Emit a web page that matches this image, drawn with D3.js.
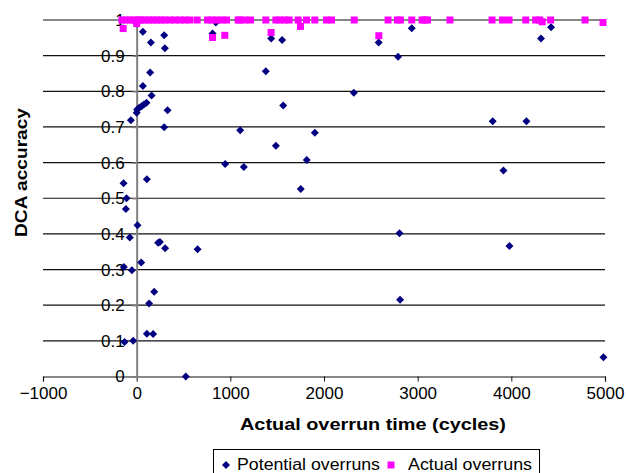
<!DOCTYPE html>
<html lang="en">
<head>
<meta charset="UTF-8">
<title>DCA accuracy</title>
<script src="https://cdn.jsdelivr.net/npm/d3@7"></script>
<style>
  body { margin: 0; background: #fff; }
  text { font-family: "Liberation Sans", Arial, sans-serif; fill: #000; }
</style>
</head>
<body>
<svg id="chart" width="626" height="473"></svg>
<script>
// potential overruns (blue diamonds)
const potentialX = [-62, 0, 5, 27, 52, 77, 105, 66, 159, 144, 152, 66, 0, 294, 301, 330, 294,
  845, 810, 1105, 1379, 1436, 1553, 1564, 1902, 2318, 2584, 2791, 2937, 3801, 4161, 4317, 4424,
  1486, 945, 1144, 109, -140, -108, -115, 9, -73, 229, 248, 304, 650, 48, -137, -51, 187, 133,
  109, 176, -129, -37, 525, 1816, 3916, 1752, 2806, 3980, 2812, 4983];
const potentialY = [0.719, 0.740, 0.749, 0.754, 0.758, 0.763, 0.768, 0.815, 0.788, 0.853, 0.937, 0.967, 0.99, 0.957, 0.921, 0.747, 0.699,
  0.993, 0.962, 0.691, 0.856, 0.948, 0.944, 0.760, 0.684, 0.796, 0.937, 0.897, 0.977, 0.716, 0.716, 0.948, 0.980,
  0.647, 0.596, 0.588, 0.553, 0.542, 0.500, 0.470, 0.424, 0.390, 0.375, 0.377, 0.360, 0.357, 0.320, 0.307, 0.298, 0.238, 0.205,
  0.120, 0.119, 0.097, 0.100, 0.000, 0.607, 0.578, 0.526, 0.402, 0.366, 0.215, 0.054];

// actual overruns (pink squares)
const actualX = [-158, -115, -73, -30, 13, 45, 88, 130, 173, 216, 258, 301, 355, 408, 461, 515, 568,
  646, 757, 803, 856, 909, 959, 1083, 1101, 1155, 1216, 1379, 1486, 1528, 1582, 1628, 1724, 1813,
  1902, 2027, 2080, 2323, 2684, 2784, 2816, 2937, 3047, 3076, 3105, 3345, 3794, 3905, 3975, 4154,
  4260, 4303, 4420, 4787,
  -144, 0, 810, 941, 1749, 1435, 2585, 4979, 4330];
const actualY = [1, 1, 1, 1, 1, 1, 1, 1, 1, 1, 1, 1, 1, 1, 1, 1, 1,
  1, 1, 1, 1, 1, 1, 1, 1, 1, 1, 1, 1, 1, 1, 1, 1, 1,
  1, 1, 1, 1, 1, 1, 1, 1, 1, 1, 1, 1, 1, 1, 1, 1,
  1, 1, 1, 1,
  0.976, 0.99, 0.951, 0.957, 0.982, 0.965, 0.956, 0.993, 0.995];

const xTicks = [-1000, 0, 1000, 2000, 3000, 4000, 5000];
const yTicks = [0, 0.1, 0.2, 0.3, 0.4, 0.5, 0.6, 0.7, 0.8, 0.9, 1];

const svg = d3.select('#chart');
const plot = { left: 43, right: 605, top: 20, bottom: 376.5 };

const x = d3.scaleLinear().domain([-1000, 5000]).range([plot.left, plot.right]);
const y = d3.scaleLinear().domain([0, 1]).range([plot.bottom, plot.top]);

// gridlines
svg.append('g').selectAll('line')
  .data(yTicks.filter(d => d > 0))
  .join('line')
  .attr('x1', plot.left).attr('x2', plot.right)
  .attr('y1', d => y(d)).attr('y2', d => y(d))
  .attr('stroke', '#111').attr('stroke-width', 1.2);

// x axis along y = 0
const xAxis = d3.axisBottom(x).tickValues(xTicks).tickSize(5).tickPadding(5).tickFormat(d3.format('d'));
const xg = svg.append('g').attr('transform', `translate(0,${y(0)})`).call(xAxis);
xg.select('.domain').attr('stroke', '#111').attr('stroke-width', 1.2);
xg.selectAll('.tick line').attr('stroke', '#111');
xg.selectAll('.tick text')
  .attr('font-size', 17)
  .attr('font-family', '"Liberation Sans", Arial, sans-serif')
  .attr('fill', '#000');

// y axis crossing at x = 0
const yAxis = d3.axisLeft(y).tickValues(yTicks).tickSize(4).tickPadding(8).tickFormat(d => d3.format('')(+d.toFixed(1)));
const yg = svg.append('g').attr('transform', `translate(${x(0)},0)`).call(yAxis);
yg.select('.domain').attr('stroke', '#808080').attr('stroke-width', 2);
yg.selectAll('.tick line').attr('stroke', '#808080').attr('stroke-width', 1.5);
yg.selectAll('.tick text')
  .attr('font-size', 17)
  .attr('font-family', '"Liberation Sans", Arial, sans-serif')
  .attr('fill', '#000');

// points
const potential = potentialX.map((v, i) => ({ x: v, y: potentialY[i] }));
const actual = actualX.map((v, i) => ({ x: v, y: actualY[i] }));

const diamond = 'M0,-4L4,0L0,4L-4,0Z';

svg.append('g').selectAll('path')
  .data(potential)
  .join('path')
  .attr('d', diamond)
  .attr('transform', d => `translate(${x(d.x)},${y(d.y)})`)
  .attr('fill', '#000080');

svg.append('g').selectAll('rect')
  .data(actual)
  .join('rect')
  .attr('x', d => x(d.x) - 3.5)
  .attr('y', d => y(d.y) - 3.5)
  .attr('width', 7).attr('height', 7)
  .attr('fill', '#ff00ff');

// axis titles
svg.append('text')
  .attr('x', 240).attr('y', 430)
  .attr('font-size', 17).attr('font-weight', 'bold')
  .attr('textLength', 266).attr('lengthAdjust', 'spacingAndGlyphs')
  .text('Actual overrun time (cycles)');

svg.append('text')
  .attr('transform', 'translate(27,237) rotate(-90)')
  .attr('font-size', 17).attr('font-weight', 'bold')
  .attr('textLength', 129).attr('lengthAdjust', 'spacingAndGlyphs')
  .text('DCA accuracy');

// legend
const legend = svg.append('g');
legend.append('rect')
  .attr('x', 213.5).attr('y', 449.5).attr('width', 326).attr('height', 24)
  .attr('fill', '#fff').attr('stroke', '#000').attr('stroke-width', 1);
legend.append('path')
  .attr('d', diamond)
  .attr('transform', 'translate(226,465)')
  .attr('fill', '#000080');
legend.append('text')
  .attr('x', 237).attr('y', 470)
  .attr('font-size', 16.5)
  .attr('textLength', 143).attr('lengthAdjust', 'spacingAndGlyphs')
  .text('Potential overruns');
legend.append('rect')
  .attr('x', 387.5).attr('y', 461.5).attr('width', 7).attr('height', 7)
  .attr('fill', '#ff00ff');
legend.append('text')
  .attr('x', 408).attr('y', 470)
  .attr('font-size', 16.5)
  .attr('textLength', 124).attr('lengthAdjust', 'spacingAndGlyphs')
  .text('Actual overruns');
</script>
</body>
</html>
